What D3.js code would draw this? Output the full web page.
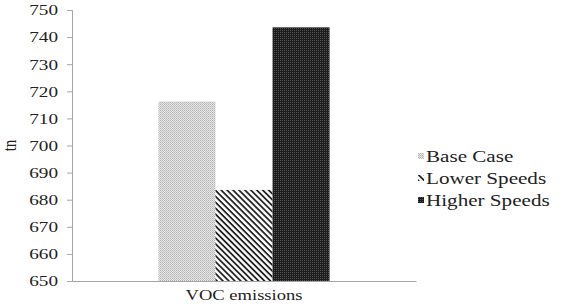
<!DOCTYPE html>
<html>
<head>
<meta charset="utf-8">
<script src="https://cdn.jsdelivr.net/npm/d3@7"></script>
<style>
  body { margin: 0; background: #fff; }
  text { font-family: "Liberation Serif", "Times New Roman", serif; fill: #222; }
</style>
</head>
<body>
<script>
// chart data
var categories = ["VOC emissions"];
var seriesNames = ["Base Case", "Lower Speeds", "Higher Speeds"];
var seriesValues = [716.2, 683.6, 743.6];
var yTicks = [650, 660, 670, 680, 690, 700, 710, 720, 730, 740, 750];
var patternIds = ["pBase", "pLower", "pHigher"];

var width = 567, height = 307;
var margin = { top: 10, bottom: 26, left: 72, right: 151 };
var stretch = 1.28; // text in the picture is drawn wider than normal

var svg = d3.select("body").append("svg")
    .attr("width", width)
    .attr("height", height);

var defs = svg.append("defs");

// light dotted pattern
var p1 = defs.append("pattern").attr("id", "pBase")
    .attr("patternUnits", "userSpaceOnUse").attr("width", 2).attr("height", 2);
p1.append("rect").attr("width", 2).attr("height", 2).attr("fill", "#e6e6e6");
p1.append("rect").attr("width", 1).attr("height", 1).attr("fill", "#b4b4b4");
p1.append("rect").attr("x", 1).attr("y", 1).attr("width", 1).attr("height", 1).attr("fill", "#c4c4c4");

// diagonal stripes, top-left to bottom-right
var p2 = defs.append("pattern").attr("id", "pLower")
    .attr("patternUnits", "userSpaceOnUse").attr("width", 4.2).attr("height", 4.2)
    .attr("patternTransform", "rotate(45)");
p2.append("rect").attr("width", 4.2).attr("height", 4.2).attr("fill", "#fff");
p2.append("rect").attr("width", 4.2).attr("height", 1.8).attr("fill", "#222");

// dark dotted pattern
var p3 = defs.append("pattern").attr("id", "pHigher")
    .attr("patternUnits", "userSpaceOnUse").attr("width", 2).attr("height", 2);
p3.append("rect").attr("width", 2).attr("height", 2).attr("fill", "#1c1c1c");
p3.append("rect").attr("width", 1).attr("height", 1).attr("fill", "#555");

var g = svg.append("g")
    .attr("transform", "translate(" + margin.left + "," + margin.top + ")");

var plotW = width - margin.left - margin.right;
var plotH = height - margin.top - margin.bottom;

var x0 = d3.scaleBand().domain(categories).range([0, plotW]).paddingInner(0).paddingOuter(0.505);
var x1 = d3.scaleBand().domain(seriesNames).range([0, x0.bandwidth()]).padding(0);
var y = d3.scaleLinear().domain([650, 750]).range([plotH, 0]);

// y axis
var yAxis = g.append("g")
    .call(d3.axisLeft(y).tickValues(yTicks).tickSize(5).tickPadding(9).tickFormat(d3.format("d")));
yAxis.select(".domain").attr("stroke", "#a6a6a6");
yAxis.selectAll(".tick line").attr("stroke", "#a6a6a6");
yAxis.selectAll("text")
    .style("font-size", "15px")
    .attr("fill", "#222")
    .attr("x", -14 / stretch)
    .attr("transform", "scale(" + stretch + ",1)");

// bars
g.selectAll(".bar")
    .data(seriesNames)
    .enter()
    .append("rect")
    .attr("class", "bar")
    .attr("x", function(d) { return x0(categories[0]) + x1(d); })
    .attr("y", function(d, i) { return y(seriesValues[i]); })
    .attr("width", x1.bandwidth())
    .attr("height", function(d, i) { return plotH - y(seriesValues[i]); })
    .attr("fill", function(d, i) { return "url(#" + patternIds[i] + ")"; });

// x axis
var xAxis = g.append("g")
    .attr("transform", "translate(0," + plotH + ")")
    .call(d3.axisBottom(x0).tickSize(0).tickPadding(9));
xAxis.select(".domain").attr("stroke", "#a6a6a6");
xAxis.selectAll("text")
    .style("font-size", "14.5px")
    .attr("fill", "#222")
    .attr("transform", "scale(" + stretch + ",1)");

// y label
g.append("text")
    .attr("transform", "translate(" + (-56) + "," + (y(700)) + ") rotate(-90) scale(1," + stretch + ")")
    .attr("text-anchor", "middle")
    .style("font-size", "15px")
    .text("tn");

// legend
var legend = svg.append("g").attr("transform", "translate(418,157)");
var li = legend.selectAll(".li")
    .data(seriesNames)
    .enter()
    .append("g")
    .attr("class", "li")
    .attr("transform", function(d, i) { return "translate(0," + (i * 22) + ")"; });
li.append("rect")
    .attr("x", 0).attr("y", -4)
    .attr("width", 6).attr("height", 6)
    .attr("fill", function(d, i) { return "url(#" + patternIds[i] + ")"; });
li.append("text")
    .attr("x", 8 / stretch)
    .attr("y", 5)
    .attr("transform", "scale(" + stretch + ",1)")
    .style("font-size", "16.5px")
    .text(function(d) { return d; });
</script>
</body>
</html>
